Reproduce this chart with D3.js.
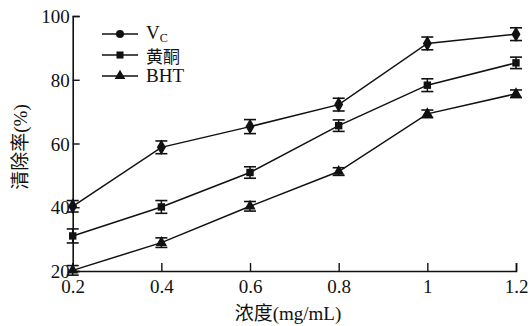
<!DOCTYPE html>
<html>
<head>
<meta charset="utf-8">
<script src="https://cdn.jsdelivr.net/npm/d3@7"></script>
<style>
  body { margin: 0; background: #fff; }
</style>
</head>
<body>
<svg width="531" height="326"></svg>
<script>
const concentrations = [0.2, 0.4, 0.6, 0.8, 1.0, 1.2];
const vcValues = [40.3, 58.8, 65.3, 72.2, 91.4, 94.3];
const vcErrors = [1.8, 2.0, 2.2, 2.0, 2.0, 2.0];
const flavoneValues = [31.0, 40.1, 50.9, 65.6, 78.3, 85.3];
const flavoneErrors = [2.2, 2.0, 1.8, 1.8, 2.0, 1.8];
const bhtValues = [20.2, 28.9, 40.3, 51.2, 69.3, 75.6];
const bhtErrors = [1.5, 1.5, 1.5, 1.2, 1.2, 1.2];
const xTicks = [0.2, 0.4, 0.6, 0.8, 1, 1.2];
const yTicks = [20, 40, 60, 80, 100];

const SERIF = "'Times New Roman', 'Liberation Serif', 'DejaVu Serif', serif";
const CJK = "'Noto Sans CJK SC', sans-serif";

const series = [
    { name: 'Vc', values: vcValues, errors: vcErrors, marker: d3.symbolDiamond, legendMarker: d3.symbolCircle },
    { name: '黄酮', values: flavoneValues, errors: flavoneErrors, marker: d3.symbolSquare, legendMarker: d3.symbolSquare },
    { name: 'BHT', values: bhtValues, errors: bhtErrors, marker: d3.symbolTriangle, legendMarker: d3.symbolTriangle }
];

const svg = d3.select('svg');
const x = d3.scaleLinear().domain([0.2, 1.2]).range([72.7, 516]);
const y = d3.scaleLinear().domain([20, 100]).range([271, 16]);

// axes, ticks pointing inward
const xAxis = svg.append('g')
    .attr('transform', `translate(0,${y(20)})`)
    .call(d3.axisBottom(x).tickValues(xTicks).tickSize(-8).tickPadding(11)
        .tickFormat(d => d3.format('')(d)));
const yAxis = svg.append('g')
    .attr('transform', `translate(${x(0.2)},0)`)
    .call(d3.axisLeft(y).tickValues(yTicks).tickSize(-7).tickPadding(3));

[xAxis, yAxis].forEach(a => {
    a.attr('font-family', SERIF).attr('font-size', 19);
    a.select('.domain').attr('stroke', '#111').attr('stroke-width', 1.6);
    a.selectAll('.tick line').attr('stroke', '#111').attr('stroke-width', 1.4);
    a.selectAll('.tick text').attr('fill', '#111');
});
xAxis.selectAll('.tick text').attr('dy', '0.6em');
yAxis.selectAll('.tick text').attr('dy', '0.35em');

// mixed-script label: CJK part and latin part in their own fonts
function mixedText(sel, cjkPart, latinPart) {
    sel.append('tspan').attr('font-family', CJK).text(cjkPart);
    sel.append('tspan').attr('font-family', SERIF).text(latinPart);
}

// axis titles
svg.append('text')
    .attr('x', 288).attr('y', 320)
    .attr('text-anchor', 'middle')
    .attr('font-size', 19)
    .attr('fill', '#111')
    .call(mixedText, '浓度', '(mg/mL)');
svg.append('text')
    .attr('transform', 'translate(27,147) rotate(-90)')
    .attr('text-anchor', 'middle')
    .attr('font-size', 19)
    .attr('fill', '#111')
    .call(mixedText, '清除率', '(%)');

const line = d3.line()
    .x((d, i) => x(concentrations[i]))
    .y(d => y(d));

series.forEach(s => {
    const g = svg.append('g');
    g.append('path')
        .attr('d', line(s.values))
        .attr('fill', 'none')
        .attr('stroke', '#111')
        .attr('stroke-width', 1.5);

    const pts = g.selectAll('g.pt')
        .data(s.values)
        .enter()
        .append('g')
        .attr('class', 'pt')
        .attr('transform', (d, i) => `translate(${x(concentrations[i])},0)`);

    pts.append('line')
        .attr('y1', (d, i) => y(d - s.errors[i]))
        .attr('y2', (d, i) => y(d + s.errors[i]))
        .attr('stroke', '#111').attr('stroke-width', 1.5);
    [-1, 1].forEach(sign => {
        pts.append('line')
            .attr('x1', -6).attr('x2', 6)
            .attr('y1', (d, i) => y(d + sign * s.errors[i]))
            .attr('y2', (d, i) => y(d + sign * s.errors[i]))
            .attr('stroke', '#111').attr('stroke-width', 1.6);
    });
    pts.append('path')
        .attr('d', d3.symbol().type(s.marker).size(s.marker === d3.symbolDiamond ? 70 : 55))
        .attr('transform', d => `translate(0,${y(d)})`)
        .attr('fill', '#111');
});

// legend
const legend = svg.append('g');
const rowY = [34, 55, 76];
series.forEach((s, i) => {
    legend.append('line')
        .attr('x1', 102).attr('x2', 138)
        .attr('y1', rowY[i]).attr('y2', rowY[i])
        .attr('stroke', '#111').attr('stroke-width', 1.5);
    legend.append('path')
        .attr('d', d3.symbol().type(s.legendMarker).size(50))
        .attr('transform', `translate(120,${rowY[i]})`)
        .attr('fill', '#111');
});
const vcLabel = legend.append('text')
    .attr('x', 146).attr('y', rowY[0] + 5)
    .attr('font-family', SERIF)
    .attr('font-size', 19)
    .attr('fill', '#111');
vcLabel.append('tspan').text('V');
vcLabel.append('tspan').attr('dy', 3).attr('font-size', 12).text('C');
legend.append('text')
    .attr('x', 146).attr('y', rowY[1] + 8)
    .attr('font-family', CJK)
    .attr('font-size', 17)
    .attr('fill', '#111')
    .text('黄酮');
legend.append('text')
    .attr('x', 146).attr('y', rowY[2] + 6)
    .attr('font-family', SERIF)
    .attr('font-size', 19)
    .attr('fill', '#111')
    .text('BHT');
</script>
</body>
</html>
